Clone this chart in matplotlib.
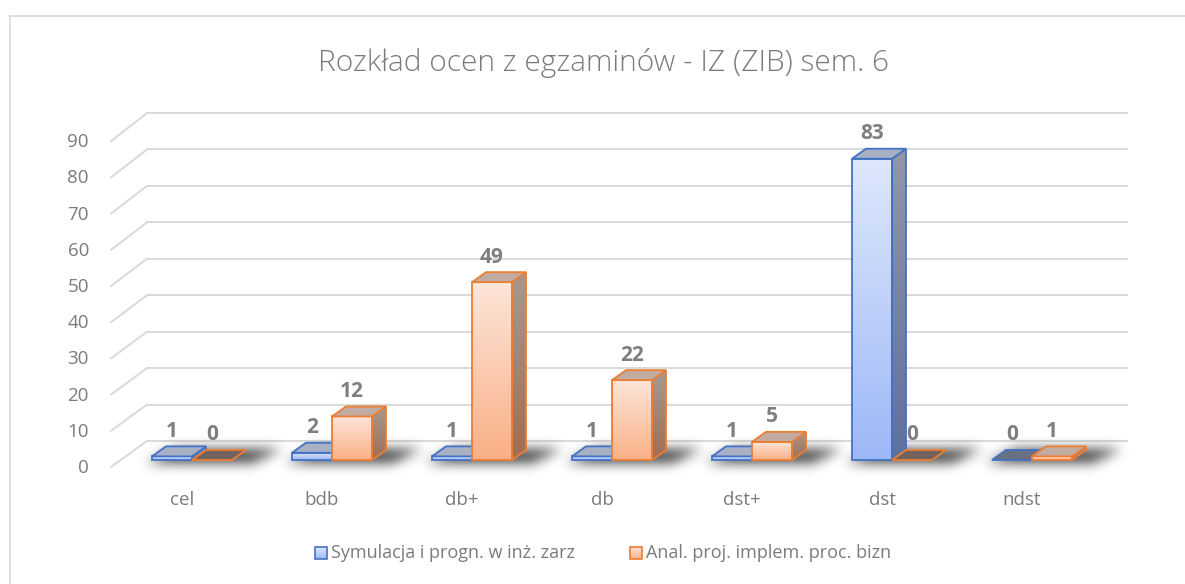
import matplotlib
matplotlib.use("Agg")
import matplotlib.pyplot as plt
import numpy as np
from matplotlib.patches import Polygon, Rectangle
from matplotlib.path import Path

# data
categories = ["cel", "bdb", "db+", "db", "dst+", "dst", "ndst"]
series_names = ["Symulacja i progn. w inż. zarz", "Anal. proj. implem. proc. bizn"]
sym_vals = [1, 2, 1, 1, 1, 83, 0]
anal_vals = [0, 12, 49, 22, 5, 0, 1]
y_ticks = list(range(0, 100, 10))
title = "Rozkład ocen z egzaminów - IZ (ZIB) sem. 6"

plt.rcParams["font.family"] = ["Open Sans", "DejaVu Sans"]
TXT = "#7b7b7b"
GRID = "#d9d9d9"

# pseudo 3d layout (pixel space)
W, H = 1185, 584
x_first = 152          # left edge of the first bar
step = 140             # distance between groups
bw = 40                # bar width
base = 460             # front bottom of bars
ppu = 3.63             # pixels per unit
ddx, ddy = 14, -10     # bar depth
back_x0, back_x1, back_y0, back_ppu = 147, 1127, 441, 3.644
front_x, front_y0, front_ppu = 111, 467, 3.62

styles = [
    dict(edge="#4472c4", f_top=(0.87, 0.91, 0.99), f_bot=(0.62, 0.72, 0.97),
         s_top=(0.57, 0.59, 0.66), s_bot=(0.37, 0.44, 0.62),
         top=(0.66, 0.69, 0.77), top0=(0.42, 0.44, 0.50)),
    dict(edge="#ed7d31", f_top=(0.99, 0.90, 0.85), f_bot=(0.98, 0.69, 0.53),
         s_top=(0.65, 0.60, 0.57), s_bot=(0.63, 0.43, 0.32),
         top=(0.76, 0.67, 0.63), top0=(0.45, 0.39, 0.37)),
]

fig = plt.figure(figsize=(W / 100, H / 100), dpi=100)
ax = fig.add_axes([0, 0, 1, 1])
ax.axis("off")

# chart frame
ax.plot([9.5, W], [15.5, 15.5], color=GRID, lw=1.2, zorder=1)
ax.plot([9.5, 9.5], [15.5, H], color=GRID, lw=1.2, zorder=1)

ax.text(603, 63, title, ha="center", va="center", fontsize=21.5, color=TXT,
        fontweight="light")

# grid: back wall lines + diagonals to the front labels
for v in y_ticks:
    yb = back_y0 - v * back_ppu
    yf = front_y0 - v * front_ppu
    ax.plot([back_x0, back_x1], [yb, yb], color=GRID, lw=1.4, zorder=1)
    ax.plot([front_x, back_x0], [yf, yb], color=GRID, lw=1.4, zorder=1)
    ax.text(89, yf + 1, str(v), ha="right", va="center", fontsize=13.5, color=TXT)

for i, c in enumerate(categories):
    ax.text(x_first + bw + i * step - 10, 500, c, ha="center", va="center",
            fontsize=13.5, color=TXT)

# soft floor shadows
yy, xx = np.mgrid[0:H, 0:W]
pts = np.column_stack([xx.ravel() + 0.5, yy.ravel() + 0.5])
mask = np.zeros(H * W)
for i in range(len(categories)):
    xl = x_first + i * step - 6
    xr = xl + 2 * bw + 26
    p = Path([(xl, base + 3), (xr, base + 3), (xr + ddx + 16, base + ddy - 1),
              (xl + ddx + 16, base + ddy - 1)])
    mask[p.contains_points(pts)] = 1.0
mask = mask.reshape(H, W)
k = np.exp(-0.5 * (np.arange(-18, 19) / 6.0) ** 2)
k /= k.sum()
mask = np.apply_along_axis(lambda r: np.convolve(r, k, mode="same"), 1, mask)
mask = np.apply_along_axis(lambda r: np.convolve(r, k, mode="same"), 0, mask)
shadow = np.zeros((H, W, 4))
shadow[..., 3] = np.clip(mask * 0.75, 0, 1)
ax.imshow(shadow, extent=[0, W, H, 0], origin="upper", aspect="auto",
          interpolation="bilinear", zorder=2)


def vgrad(x0, x1, ytop, ybot, ctop, cbot, clip, z):
    t = np.linspace(0, 1, 64)[:, None, None]
    rgb = (1 - t) * np.array(ctop) + t * np.array(cbot)
    im = ax.imshow(rgb, extent=[x0, x1, ybot, ytop], origin="upper",
                   aspect="auto", interpolation="bilinear", zorder=z)
    im.set_clip_path(clip)


z = 3
for i in range(len(categories)):
    for s, vals in enumerate([sym_vals, anal_vals]):
        st = styles[s]
        v = vals[i]
        xl = x_first + i * step + s * bw
        xr = xl + bw
        yt = base - v * ppu
        if v > 0:
            front = Polygon([(xl, base), (xr, base), (xr, yt), (xl, yt)],
                            closed=True, fc="none", ec="none", zorder=z)
            ax.add_patch(front)
            vgrad(xl, xr, yt, base, st["f_top"], st["f_bot"], front, z)
            side = Polygon([(xr, base), (xr + ddx, base + ddy),
                            (xr + ddx, yt + ddy), (xr, yt)],
                           closed=True, fc="none", ec="none", zorder=z)
            ax.add_patch(side)
            vgrad(xr, xr + ddx, yt + ddy, base, st["s_top"], st["s_bot"], side, z)
            for poly in (front, side):
                ax.add_patch(Polygon(poly.get_xy(), closed=True, fc="none",
                                     ec=st["edge"], lw=1.3, zorder=z + 0.5))
        topc = st["top"] if v > 0 else st["top0"]
        ax.add_patch(Polygon([(xl, yt), (xr, yt), (xr + ddx, yt + ddy),
                              (xl + ddx, yt + ddy)], closed=True, fc=topc,
                             ec=st["edge"], lw=1.3, zorder=z + 0.6))
        ax.text((xl + xr) / 2, yt + ddy - 15, str(v), ha="center", va="center",
                fontsize=15, fontweight="bold", color="#7f7f7f", zorder=50)
        z += 1

# legend
leg_x = [315, 630]
for s, name in enumerate(series_names):
    st = styles[s]
    sq = Rectangle((leg_x[s], 547), 12, 12, fc="none", ec="none", zorder=60)
    ax.add_patch(sq)
    vgrad(leg_x[s], leg_x[s] + 12, 547, 559, st["f_top"], st["f_bot"], sq, 60)
    ax.add_patch(Rectangle((leg_x[s], 547), 12, 12, fc="none", ec=st["edge"],
                           lw=1.2, zorder=61))
    ax.text(leg_x[s] + 16, 553, name, ha="left", va="center", fontsize=13,
            color=TXT)

ax.set_xlim(0, W)
ax.set_ylim(H, 0)
fig.savefig("out.png", dpi=100, facecolor="white")
